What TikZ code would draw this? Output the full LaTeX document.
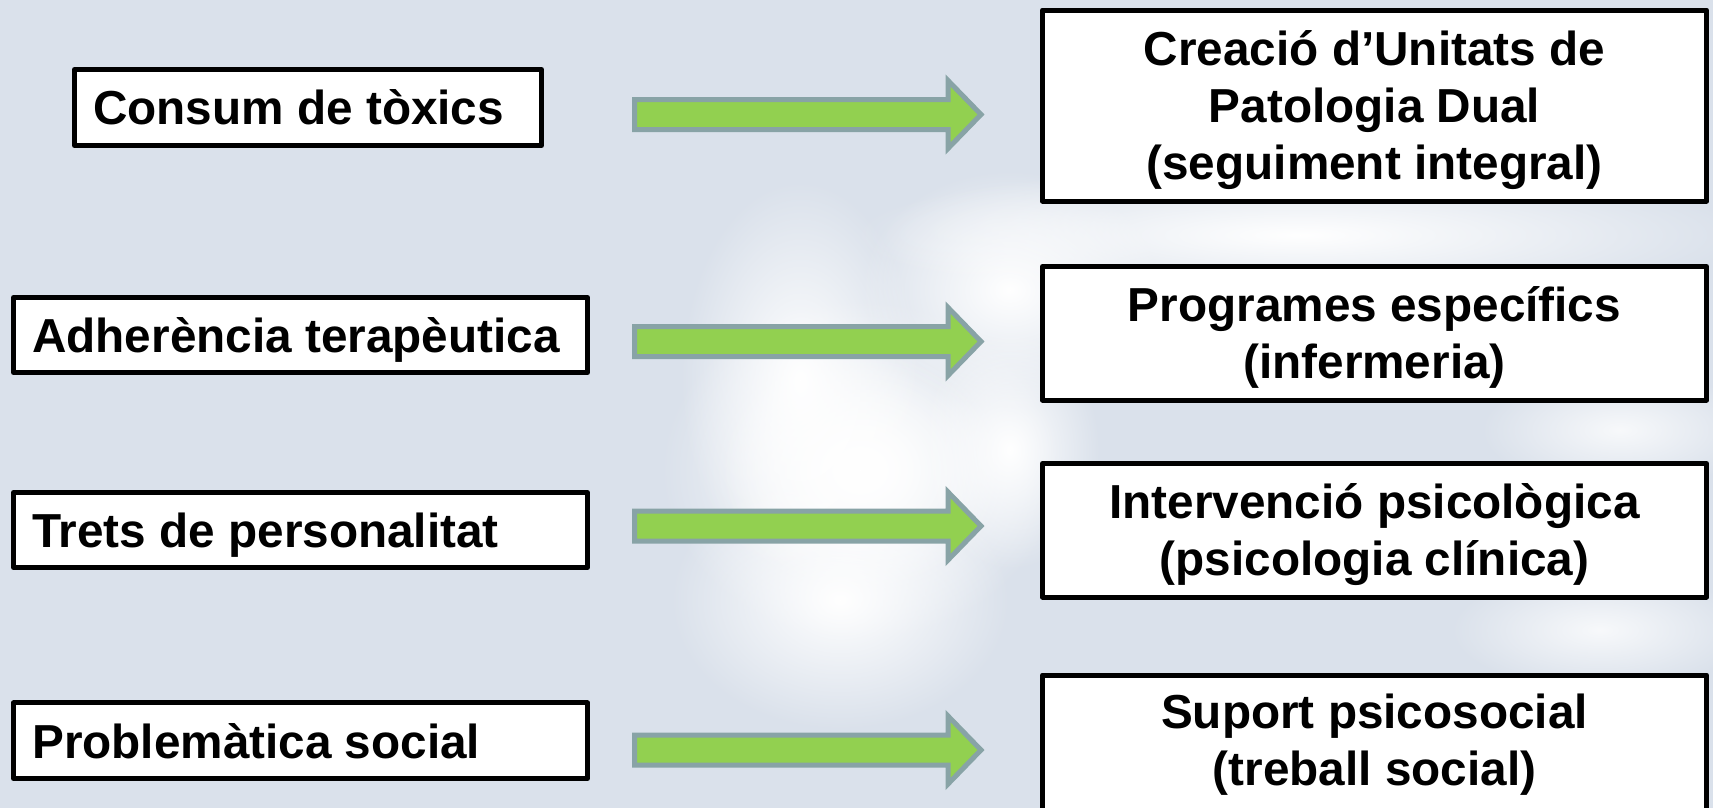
\documentclass[tikz,border=0pt]{standalone}
\usepackage{fontspec}
\setmainfont{Liberation Sans}
\usetikzlibrary{fadings,calc}
\definecolor{bgcol}{RGB}{218,225,235}
\definecolor{arrowfill}{RGB}{146,208,80}
\definecolor{arrowline}{RGB}{136,163,166}
\tikzfading[name=glowfade, inner color=transparent!0, outer color=transparent!100]
\tikzset{
  box/.style={draw=black, fill=white, line width=5pt, rectangle, inner sep=0pt, line join=round},
  ltext/.style={font=\fontsize{47.7}{57}\selectfont\bfseries, inner sep=0pt, anchor=base west},
  rtext/.style={font=\fontsize{47.7}{57}\selectfont\bfseries, inner sep=0pt, anchor=base},
  blockarrow/.style={fill=arrowfill, draw=arrowline, line width=5pt, line join=miter},
  glow/.style={fill=white, path fading=glowfade}
}
\newcommand{\bigarrow}[2]{% #1 start coordinate, #2 tip coordinate
  \draw[blockarrow] ($(#1)+(0,-15)$) -- ($(#2)+(-33,-15)$) -- ($(#2)+(-33,-34)$) -- (#2)
    -- ($(#2)+(-33,34)$) -- ($(#2)+(-33,15)$) -- ($(#1)+(0,15)$) -- cycle;}
\begin{document}
\begin{tikzpicture}[x=1pt,y=-1pt]
\useasboundingbox (0,0) rectangle (1713,808);
\begin{scope}
\clip (0,0) rectangle (1713,808);
\fill[bgcol] (0,0) rectangle (1713,808);
% soft background glows
\fill[glow] (860,470) ellipse (200 and 170);
\fill[glow] (860,470) ellipse (140 and 120);
\fill[glow] (840,600) ellipse (170 and 130);
\fill[glow] (800,380) ellipse (120 and 200);
\fill[glow] (1010,290) ellipse (150 and 120);
\fill[glow] (1010,450) ellipse (90 and 120);
\fill[glow] (1300,235) ellipse (450 and 70);
\fill[glow, opacity=0.8] (1620,430) ellipse (140 and 60);
\fill[glow, opacity=0.8] (1600,630) ellipse (150 and 60);

% left boxes
\node[box, minimum width=467pt, minimum height=76pt] (L1) at (308,107.5) {};
\node[box, minimum width=574pt, minimum height=75pt] (L2) at (300.5,335) {};
\node[box, minimum width=574pt, minimum height=75pt] (L3) at (300.5,530) {};
\node[box, minimum width=574pt, minimum height=75.5pt] (L4) at (300.5,740.7) {};
\node[ltext] (t1) at (93,124.6) {Consum de tòxics};
\node[ltext] (t2) at (32,352) {Adherència terapèutica};
\node[ltext] (t3) at (32,547) {Trets de personalitat};
\node[ltext] (t4) at (32,758) {Problemàtica social};

% right boxes
\node[box, minimum width=664pt, minimum height=191pt] (R1) at (1374.5,105.6) {};
\node[box, minimum width=664pt, minimum height=133.5pt] (R2) at (1374.5,333.25) {};
\node[box, minimum width=664pt, minimum height=133.5pt] (R3) at (1374.5,530.25) {};
\node[box, minimum width=664pt, minimum height=150pt] (R4) at (1374.5,750) {};
\node[rtext] (r1a) at (1374.5,65.7) {Creació d’Unitats de};
\node[rtext] (r1b) at (1374.5,122.7) {Patologia Dual};
\node[rtext] (r1c) at (1374.5,179.7) {(seguiment integral)};
\node[rtext] (r2a) at (1374.5,321.5) {Programes específics};
\node[rtext] (r2b) at (1374.5,378.5) {(infermeria)};
\node[rtext] (r3a) at (1374.5,518) {Intervenció psicològica};
\node[rtext] (r3b) at (1374.5,575) {(psicologia clínica)};
\node[rtext] (r4a) at (1374.5,728) {Suport psicosocial};
\node[rtext] (r4b) at (1374.5,785) {(treball social)};

% block arrows
\coordinate (a1s) at (634.5,114.5); \coordinate (a1e) at (981,114.5);
\coordinate (a2s) at (634.5,341.5); \coordinate (a2e) at (981,341.5);
\coordinate (a3s) at (634.5,526);   \coordinate (a3e) at (981,526);
\coordinate (a4s) at (634.5,750);   \coordinate (a4e) at (981,750);
\bigarrow{a1s}{a1e}
\bigarrow{a2s}{a2e}
\bigarrow{a3s}{a3e}
\bigarrow{a4s}{a4e}
\end{scope}
\end{tikzpicture}
\end{document}
